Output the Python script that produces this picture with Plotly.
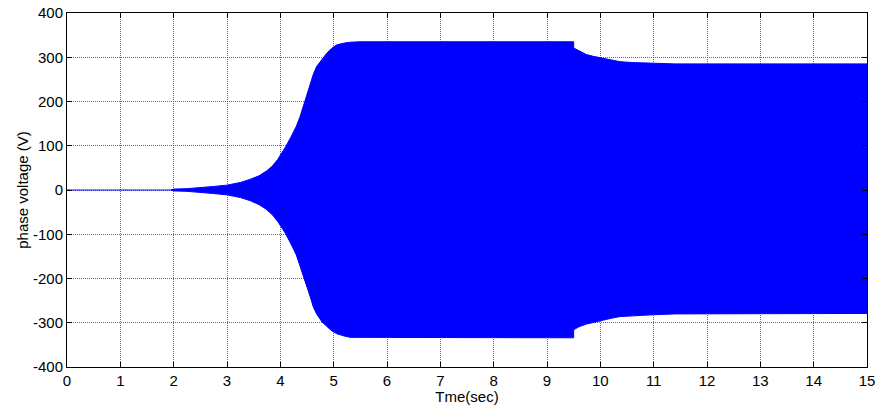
import plotly.graph_objects as go

# Envelope of the phase voltage signal
t_env = [1.95, 2.0, 2.25, 2.5, 2.75, 3.0, 3.25, 3.43, 3.6, 3.74, 3.85, 3.95, 4.0, 4.1, 4.2, 4.3, 4.37,
         4.43, 4.5, 4.56, 4.62, 4.68, 4.78, 4.87, 4.96, 5.06, 5.2, 5.31, 5.5, 6.0, 7.0, 8.0, 9.0, 9.5,
         9.5, 9.6, 9.74, 9.87, 10.0, 10.2, 10.37, 10.6, 10.99, 11.4, 11.87, 12.5, 13.0, 14.0, 15.0]
upper = [0, 2, 3, 5, 8, 11, 17, 24, 32, 43, 54, 69, 78, 98, 120, 144, 166,
         188, 215, 241, 262, 279, 296, 309, 320, 328, 332, 334, 335, 335, 335, 335, 335, 335,
         321, 314, 306, 302, 299, 294, 290, 288, 286, 285, 285, 285, 285, 285, 285]
lower = [0, -2, -3, -5, -8, -11, -17, -24, -33, -44, -56, -71, -80, -99, -122, -147, -172,
         -196, -218, -241, -265, -280, -298, -309, -318, -325, -330, -333, -334, -334, -334, -334, -334, -334,
         -316, -309, -303, -299, -295, -290, -286, -284, -282, -280, -279, -279, -279, -279, -279]

t_pre = [0, 2.0]
v_pre = [0, 0]

x_ticks = list(range(0, 16))
y_ticks = list(range(-400, 401, 100))

FONT = "Liberation Sans, Arial, sans-serif"

fig = go.Figure()
fig.add_trace(go.Scatter(
    x=t_env + t_env[::-1], y=upper + lower[::-1],
    mode="lines", fill="toself", fillcolor="#0000FF",
    line=dict(color="#0000FF", width=1), hoverinfo="skip", showlegend=False))
fig.add_trace(go.Scatter(x=t_pre, y=v_pre, mode="lines",
                         line=dict(color="#0000FF", width=1), showlegend=False))

axis_common = dict(
    showgrid=True, gridcolor="#6a6a6a", gridwidth=1, griddash="1px,1px",
    showline=True, linecolor="black", linewidth=1, mirror="ticks",
    ticks="inside", ticklen=5, tickcolor="black", tickwidth=1,
    zeroline=False, automargin=False,
    tickfont=dict(family=FONT, size=15, color="black"),
)

fig.update_xaxes(range=[0, 15], tickvals=x_ticks, ticktext=[str(v) for v in x_ticks],
                 title=dict(text="Tme(sec)", standoff=0,
                            font=dict(family=FONT, size=15, color="black")),
                 **axis_common)
fig.update_yaxes(range=[-400, 400], tickvals=y_ticks, ticktext=[str(v) for v in y_ticks],
                 title=dict(text="phase voltage (V)", standoff=0,
                            font=dict(family=FONT, size=15, color="black")),
                 **axis_common)

fig.update_layout(
    width=878, height=405,
    margin=dict(l=67, r=11, t=13, b=38),
    paper_bgcolor="white", plot_bgcolor="white",
    showlegend=False,
)

fig.write_html("out.html", config={"displayModeBar": False},
               post_script="document.body.style.margin='0';document.body.style.padding='0';document.body.style.overflow='hidden';")
